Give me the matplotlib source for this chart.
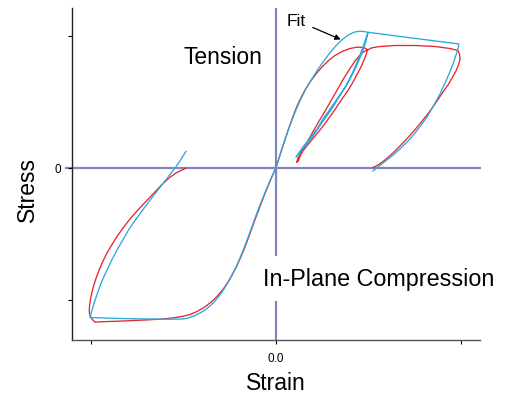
import numpy as np
import matplotlib
matplotlib.use("Agg")
import matplotlib.pyplot as plt

plt.rcParams['font.family'] = ['Liberation Sans', 'DejaVu Sans']

# ---- data (normalised strain / stress units, ticks at -1, 0, 1) ----
PX0, PY0, SX, SY = 276.0, 168.7, 185.0, 132.0

def _n(pts):
    a = np.array(pts, dtype=float)
    return (a[:, 0] - PX0) / SX, (PY0 - a[:, 1]) / SY

# Fit (blue) - tension cyclic
fit_tension = [
    # first loading
    (276,168.7),(282,149.7),(288,131.7),(294,115.7),(300,101.7),(306,89.7),(312,79.7),
    (318,70.2),(324,61.7),(330,53.7),(336,46.7),(342,40.7),(348,36.2),(354,33.2),(360,32.2),
    (365,32.7),(368,33.3),
    # unloading
    (366,42),(363,51),(359.5,60),(355,70),(350,80),(344,90),(337,100),(330,110),(323,120),
    (317,130),(310,139),(303,148),(296,158),
    # reloading
    (300,153.5),(306,146),(313,137),(319,128),(326,118),(333,108),(339,98),(346,87),
    (351,77),(356,66),(360,56),(364,45),(368,33.3),
    # further loading
    (459,45),
    # final unloading
    (458,50),(456,56),(453,65),(449,75),(445,84),(440,95),(434,106),(427,118),(419,129),
    (410,140),(401,149),(392,157),(383,164),(373,172)]
# Fit (blue) - compression
fit_compression = [
    (276,168.7),(272,177.5),(268,186.5),(264,196),(260,206),(256,216.5),(252,227.5),
    (248,238.5),(244,249),(240,259),(236,268.5),(232,276.5),(228,283.5),(224,290),(220,296),
    (215,302),(210,307),(205,311),(200,314),(194,317),(188,319),(183,320),(170,320.2),
    (150,320),(120,319.5),(90,318.5),
    (91,314.5),(92.5,309.5),(94.5,303),(97,295.5),(100,287),(103.5,278.5),(107.5,270),
    (112,260.5),(117,251),(122.5,241.5),(128.5,231),(135,221.5),(142,212),(149,202.5),
    (156,193.5),(163,184.5),(170,175.5),(178,165),(186,152.3)]
# Test (red) - tension cyclic
test_tension = [
    (276,168.7),(280,156),(284,143.5),(288,131.5),(292,120),(296,109.5),(300,100.5),
    (305,91),(310,83),(316,75),(322,68),(328,62),(335,56.5),(342,52.5),(350,49.5),
    (357,48.2),(362,48.3),(366,49.5),(367.5,51),
    # unloading
    (366,56),(364,61),(361,68),(357,75.5),(353,83),(348,91.5),(342,100),(336,109),
    (329,119),(322,128.5),(315,137),(308,145.5),(302,153),(298,159),(296.7,163.3),
    # reloading
    (298.3,162),(301,155),(305,147),(310,138),(315,129),(320,120.5),(326,110.5),(332,100),
    (338,89.5),(344,79),(350,69.5),(355,62),(360,56),(364,52.5),(367.5,51),
    # further loading
    (372,48.8),(380,47.5),(395,46.5),(415,46.5),(435,47.5),(450,49.5),(458,51.5),
    # final unloading
    (459.5,55),(460,60),(458.5,66),(456,72),(452,79),(448,86),(443,93),(437,102),
    (430,112),(423,121),(416,129.5),(409,137.5),(401,146),(393,154),(385,161),(378,166),
    (373,168.7)]
# Test (red) - compression
test_compression = [
    (276,168.7),(272,177.5),(268,187),(264,197),(260,207.5),(256,218),(252,229),(248,240),
    (244,250.5),(240,260),(236,268.5),(232,276),(228,283),(224,289),(220,294),(215,299.5),
    (210,304),(204,308.5),(197,312.5),(190,315.5),(182,317.5),(172,319),(160,320.2),
    (145,321),(130,321.7),(115,322.3),(100,322.8),(95,323.2),
    (92,320),(90,316.5),(89.3,313),(89.5,307),(90.5,300),(92,293),(94,285.5),(96.5,278),
    (99.5,270),(103,262),(107,254),(112,245.5),(117,237.5),(123,229),(130,220),(137,212),
    (145,203.5),(153,195),(161,186.5),(169,179),(176,174),(182,171),(186,169)]

x_ticks = [-1, 0, 1]
x_tick_labels = ['', '0.0', '']
y_ticks = [-1, 0, 1]
y_tick_labels = ['', '0', '']

RED = '#e8262d'
BLUE = '#2aa9e0'
AXC = '#8585c4'

fig = plt.figure(figsize=(5.09, 4.02), dpi=100)
ax = fig.add_axes([72/509, 61.3/402, 408/509, 331.4/402])

ax.set_xlim((72 - PX0) / SX, (480 - PX0) / SX)
ax.set_ylim((PY0 - 340.7) / SY, (PY0 - 9.3) / SY)

ax.axhline(0, xmin=-0.015, xmax=1.0, color=AXC, lw=1.6, zorder=1, clip_on=False)
ax.axvline(0, color=AXC, lw=1.6, zorder=1)

for pts, c in [(test_tension, RED), (test_compression, RED),
               (fit_tension, BLUE), (fit_compression, BLUE)]:
    xs, ys = _n(pts)
    ax.plot(xs, ys, color=c, lw=0.95, zorder=3, solid_joinstyle='round')

ax.set_xticks(x_ticks)
ax.set_xticklabels(x_tick_labels)
ax.set_yticks(y_ticks)
ax.set_yticklabels(y_tick_labels)
ax.tick_params(axis='both', direction='out', length=3, width=0.8, labelsize=8.5)
ax.tick_params(axis='x', pad=6)
ax.tick_params(axis='y', pad=5)

for s in ['top', 'right']:
    ax.spines[s].set_visible(False)
ax.spines['left'].set_color('#222222')
ax.spines['bottom'].set_color('#555555')
ax.spines['left'].set_linewidth(1.0)
ax.spines['bottom'].set_linewidth(1.0)

ax.set_xlabel('Strain', fontsize=16.5)
ax.xaxis.set_label_coords(0.5, -0.095)
ax.set_ylabel('Stress', fontsize=16.5)
ax.yaxis.set_label_coords(-0.08, 0.455)

ax.text((183 - PX0) / SX, (PY0 - 64) / SY, 'Tension', fontsize=16.5,
        ha='left', va='baseline', zorder=5)
ax.text((263 - PX0) / SX, (PY0 - 286) / SY, 'In-Plane Compression', fontsize=16.8,
        ha='left', va='baseline', zorder=5,
        bbox=dict(facecolor='white', edgecolor='none', pad=8))
ax.annotate('Fit', xy=((342 - PX0) / SX, (PY0 - 41) / SY),
            xytext=((287 - PX0) / SX, (PY0 - 26) / SY), fontsize=12.5,
            ha='left', va='baseline', zorder=6,
            arrowprops=dict(arrowstyle='-|>', color='black', lw=0.9,
                            mutation_scale=8, shrinkA=3, shrinkB=1))

fig.savefig('out.png', dpi=100)
